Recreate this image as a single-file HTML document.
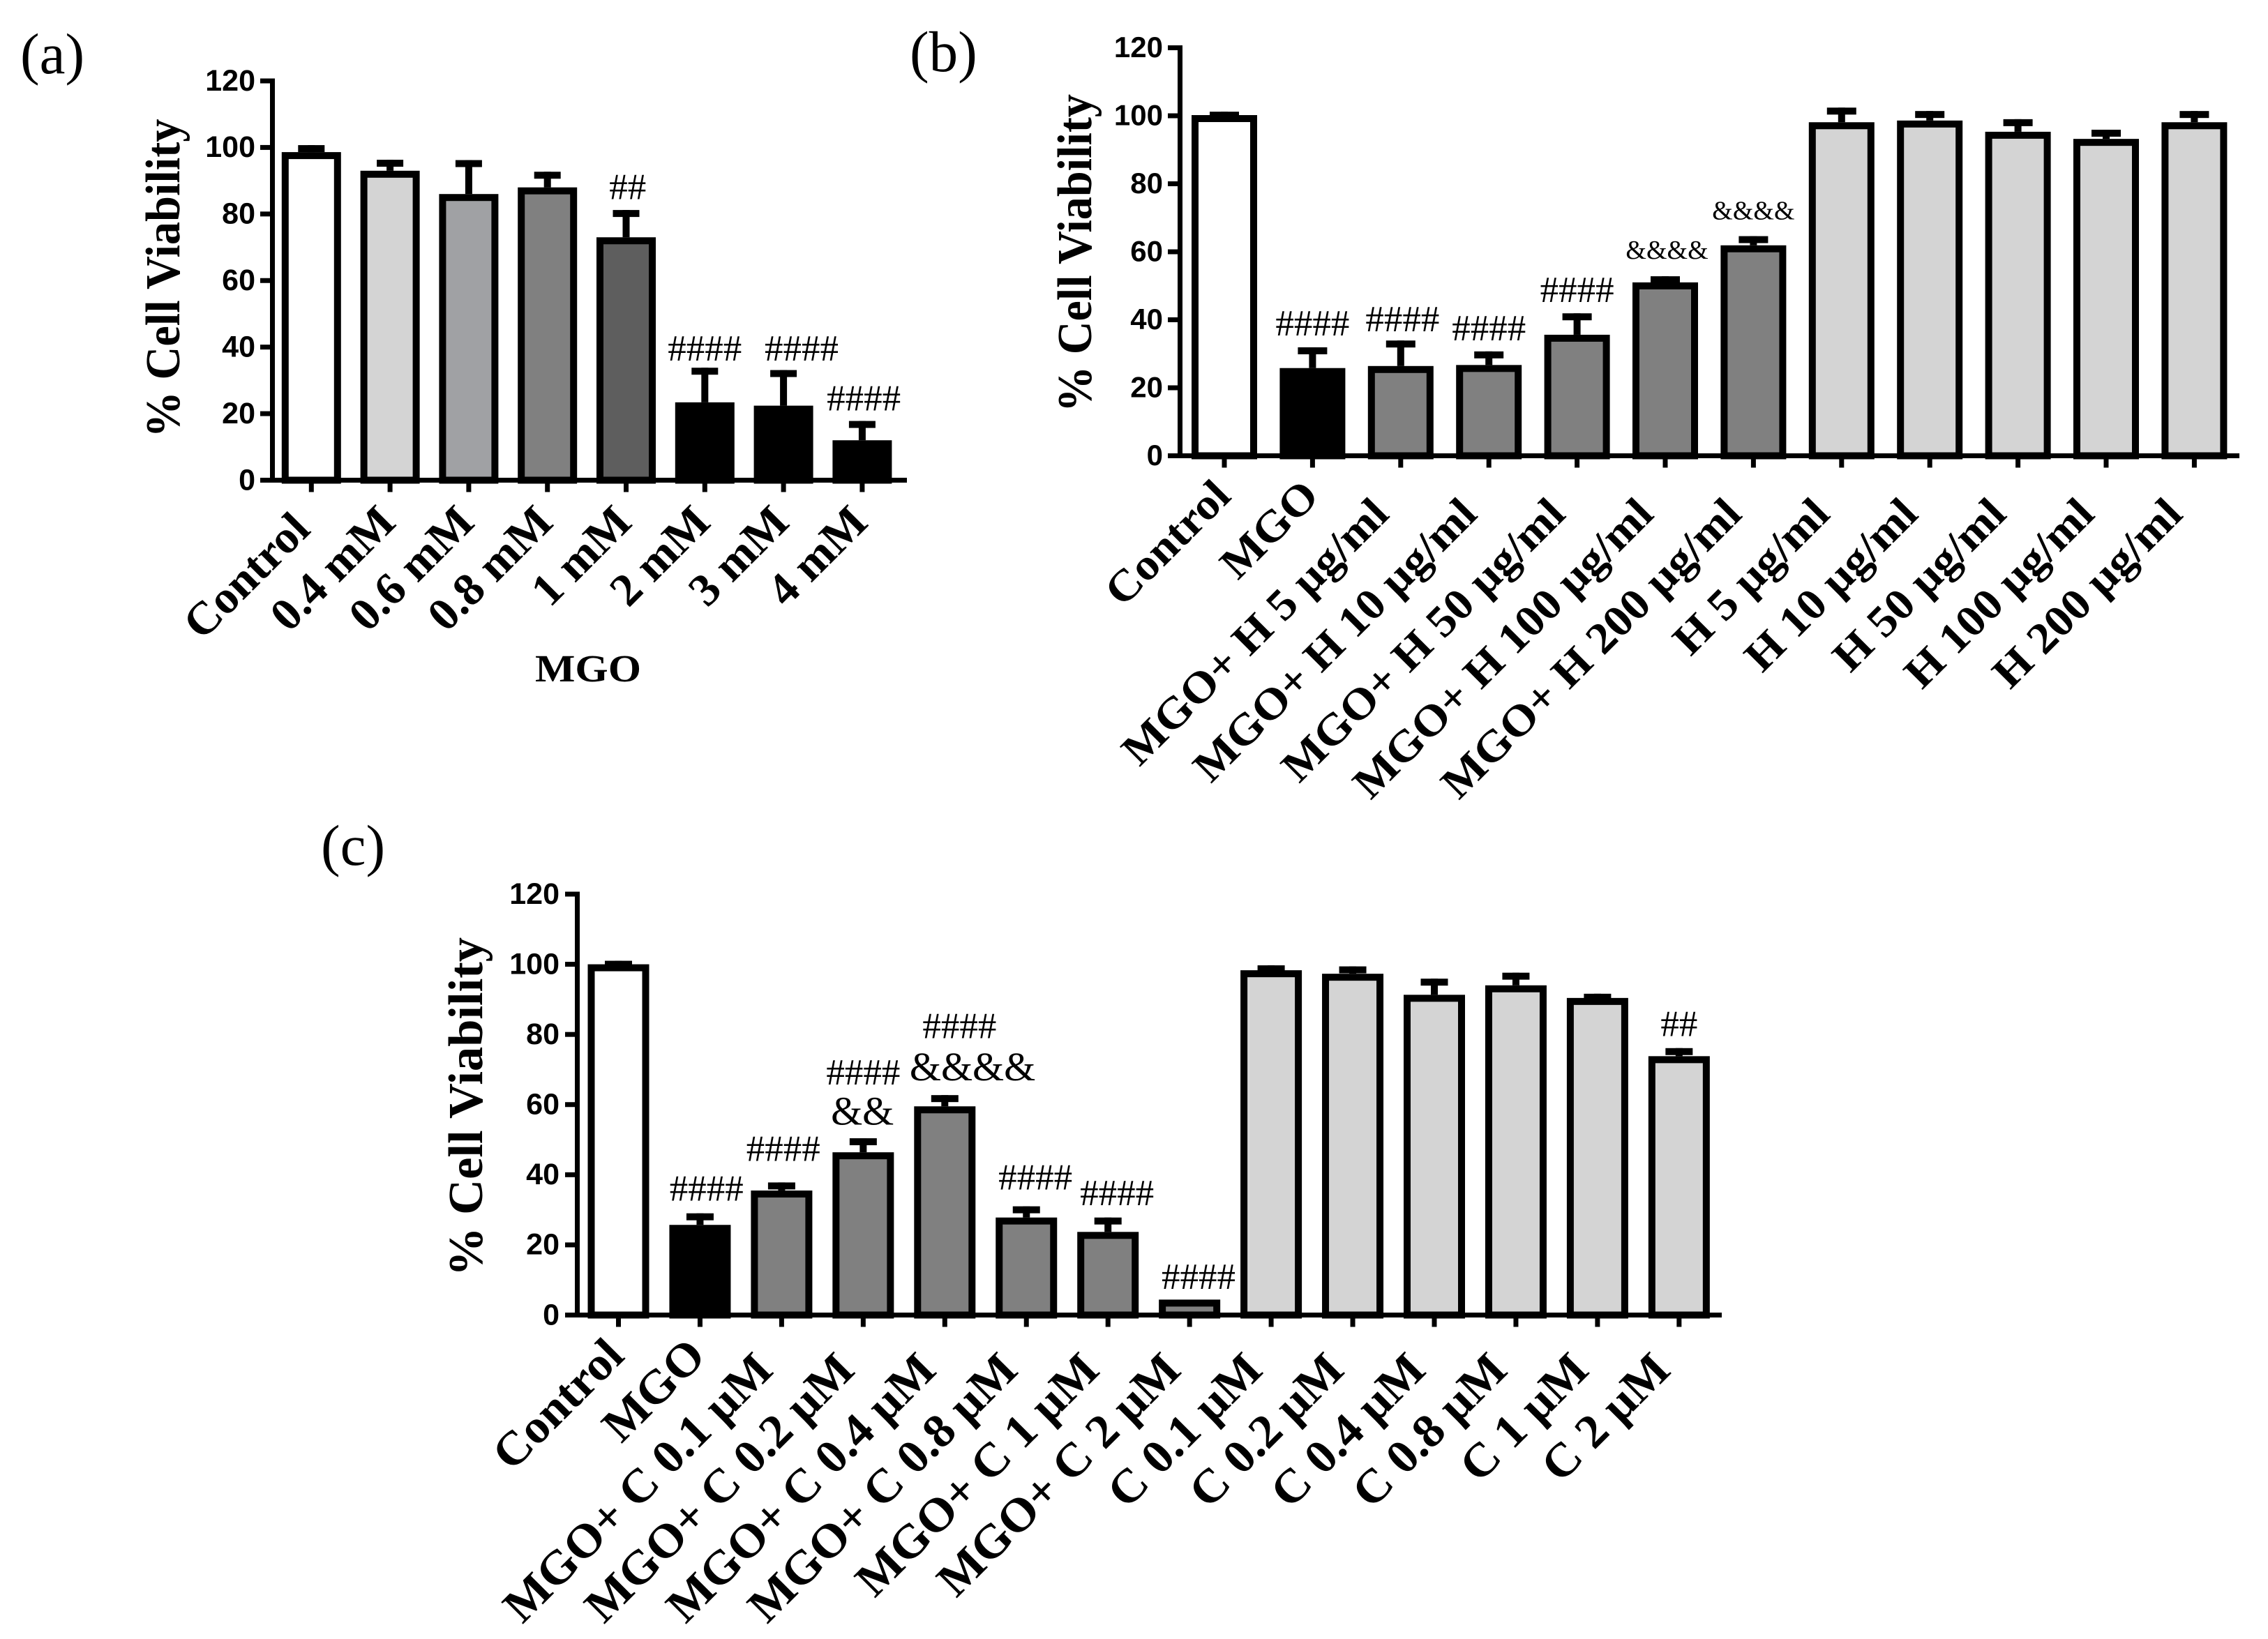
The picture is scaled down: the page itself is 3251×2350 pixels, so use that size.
<!DOCTYPE html>
<html lang="en">
<head>
<meta charset="utf-8">
<title>Cell viability bar charts</title>
<style>
html,body{margin:0;padding:0;background:#fff}
svg{display:block}
text{fill:#000}
.tick{font-family:"Liberation Sans",Arial,sans-serif;font-weight:700}
.serif{font-family:"Liberation Serif",serif}
</style>
</head>
<body>
<svg id="figure" xmlns="http://www.w3.org/2000/svg" width="3251" height="2350" viewBox="0 0 3251 2350"></svg>
<script>
const yTicks = [0, 20, 40, 60, 80, 100, 120];

const aCategories = ["Control", "0.4 mM", "0.6 mM", "0.8 mM", "1 mM", "2 mM", "3 mM", "4 mM"];
const aValues = [98.6, 93, 86, 88, 73, 23.4, 22.4, 12];
const aErrorTops = [100.7, 96.3, 96.2, 92.7, 81.2, 33.8, 33.1, 17.8];
const aFills = ["#ffffff", "#d4d4d4", "#a0a1a4", "#808080", "#5e5e5e", "#000000", "#000000", "#000000"];
const aNoteText = ["##", "####", "####", "####"];
const aNoteCat = [4.02, 5, 6.23, 7.02];
const aNoteVal = [84.5, 36, 36, 21];

const bCategories = ["Control", "MGO", "MGO+ H 5 µg/ml", "MGO+ H 10 µg/ml", "MGO+ H 50 µg/ml", "MGO+ H 100 µg/ml", "MGO+ H 200 µg/ml", "H 5 µg/ml", "H 10 µg/ml", "H 50 µg/ml", "H 100 µg/ml", "H 200 µg/ml"];
const bValues = [100.2, 25.8, 26.4, 26.7, 35.6, 51, 61.9, 98.1, 98.6, 95.3, 93.2, 98.1];
const bErrorTops = [101.2, 31.9, 33.9, 30.7, 41.9, 52.8, 64.6, 102.4, 101.4, 99, 95.9, 101.4];
const bFills = ["#ffffff", "#000000", "#808080", "#808080", "#808080", "#808080", "#808080", "#d4d4d4", "#d4d4d4", "#d4d4d4", "#d4d4d4", "#d4d4d4"];
const bNoteText = ["####", "####", "####", "####", "&&&&", "&&&&"];
const bNoteCat = [1, 2.02, 3, 4, 5.02, 6];
const bNoteVal = [35.4, 36.6, 34, 45.2, 57.9, 69.5];

const cCategories = ["Control", "MGO", "MGO+ C 0.1 µM", "MGO+ C 0.2 µM", "MGO+ C 0.4 µM", "MGO+ C 0.8 µM", "MGO+ C 1 µM", "MGO+ C 2 µM", "C 0.1 µM", "C 0.2 µM", "C 0.4 µM", "C 0.8 µM", "C 1 µM", "C 2 µM"];
const cValues = [100, 25.7, 35.5, 46.4, 59.5, 27.8, 23.7, 4.4, 98.3, 97.3, 91.3, 94, 90.4, 73.8];
const cErrorTops = [101, 29, 37.8, 50.4, 62.7, 31, 27.8, 4.4, 99.7, 99.4, 95.9, 97.6, 91.6, 76.1];
const cFills = ["#ffffff", "#000000", "#808080", "#808080", "#808080", "#808080", "#808080", "#808080", "#d4d4d4", "#d4d4d4", "#d4d4d4", "#d4d4d4", "#d4d4d4", "#d4d4d4"];
const cNoteText = ["####", "####", "####", "&&", "####", "&&&&", "####", "####", "####", "##"];
const cNoteCat = [1.08, 2.02, 3, 2.99, 4.18, 4.34, 5.11, 6.11, 7.11, 13];
const cNoteVal = [32.6, 43.9, 65.7, 54.3, 78.9, 66.9, 35.8, 31.3, 7.5, 79.5];

const SVGNS = "http://www.w3.org/2000/svg";
const root = document.getElementById("figure");

function mk(parent, tag, attrs, txt) {
  const e = document.createElementNS(SVGNS, tag);
  for (const k in attrs) e.setAttribute(k, attrs[k]);
  if (txt !== undefined) e.textContent = txt;
  parent.appendChild(e);
  return e;
}

function drawPanel(p) {
  const g = mk(root, "g", {});
  
  

  const yPos = v => p.y0 - v * (p.y0 - p.y120) / 120;
  const xPos = i => p.x0 + i * p.step;
  const lw = 7;
  const bw = 10;

  const letter = mk(g, "text", {class: "serif", x: p.letterX, y: p.letterY, "font-size": 83}, "(" + p.id + ")");
  
  

  const title = mk(g, "text", {class: "serif", "font-weight": 700, "font-size": 70, "text-anchor": "middle",
    textLength: p.titleLen, lengthAdjust: "spacingAndGlyphs",
    transform: "translate(" + p.titleX + "," + p.titleY + ") rotate(-90)"}, "% Cell Viability");
  
  

  p.values.forEach((v, i) => {
    const cx = xPos(i);
    const topE = yPos(p.errs[i]);
    const topB = yPos(v);
    if (p.errs[i] > v) {
      const stem = mk(g, "rect", {x: cx - 5, y: topE, width: 10, height: Math.max(0, topB - topE), fill: "#000"});
      
      
      const cap = mk(g, "rect", {x: cx - p.cap / 2, y: topE, width: p.cap, height: 10, fill: "#000"});
      
      
    }
    const bar = mk(g, "rect", {x: cx - p.barW / 2 + bw / 2, y: topB + bw / 2, width: p.barW - bw,
      height: Math.max(0, p.y0 - topB - bw / 2), fill: p.fills[i], stroke: "#000", "stroke-width": bw});
    
    

    const tick = mk(g, "rect", {x: cx - lw / 2, y: p.y0, width: lw, height: 17, fill: "#000"});
    
    

    const slide = /\d/.test(p.categories[i]) ? p.labelShift * Math.SQRT1_2 : 0;
    const lab = mk(g, "text", {class: "serif", "font-weight": 700, "font-size": p.labelSize, "text-anchor": "end",
      transform: "translate(" + (cx + p.labelDx - slide) + "," + (p.labelY + slide) + ") rotate(-45) scale(" + p.labelSx + ",1)"}, p.categories[i]);
    
    
  });

  const yAxis = mk(g, "rect", {x: p.axisX - lw / 2, y: p.y120 - lw / 2, width: lw, height: p.y0 - p.y120 + lw, fill: "#000"});
  
  
  const xAxis = mk(g, "rect", {x: p.axisLeft, y: p.y0 - lw / 2, width: p.axisRight - p.axisLeft, height: lw, fill: "#000"});
  
  

  yTicks.forEach(t => {
    const yy = yPos(t);
    const tk = mk(g, "rect", {x: p.axisLeft, y: yy - lw / 2, width: p.axisX - p.axisLeft, height: lw, fill: "#000"});
    
    
    const tl = mk(g, "text", {class: "tick", "font-size": p.tickSize, "text-anchor": "end", x: p.tickRight, y: yy + p.tickSize * 0.32}, String(t));
    
    
  });

  p.noteText.forEach((s, i) => {
    const isAmp = s.charAt(0) === "&";
    const note = mk(g, "text", {class: "serif", "text-anchor": "middle", "font-size": isAmp ? p.ampSize : 53,
      x: xPos(p.noteCat[i]), y: yPos(p.noteVal[i])}, s);
    
    
  });
}

drawPanel({id: "a", categories: aCategories, values: aValues, errs: aErrorTops, fills: aFills,
  noteText: aNoteText, noteCat: aNoteCat, noteVal: aNoteVal, ampSize: 37,
  y0: 688.5, y120: 116, x0: 446.3, step: 112.8, barW: 85, cap: 38,
  axisX: 390.5, axisLeft: 373, axisRight: 1300, tickRight: 366, tickSize: 43,
  titleX: 257, titleY: 399, titleLen: 457,
  labelSize: 66, labelSx: 1.02, labelDx: 1, labelY: 762, labelShift: -14,
  letterX: 29, letterY: 105});

drawPanel({id: "b", categories: bCategories, values: bValues, errs: bErrorTops, fills: bFills,
  noteText: bNoteText, noteCat: bNoteCat, noteVal: bNoteVal, ampSize: 38,
  y0: 653.5, y120: 68.5, x0: 1755, step: 126.4, barW: 94, cap: 42,
  axisX: 1691.5, axisLeft: 1674, axisRight: 3210, tickRight: 1667, tickSize: 42,
  titleX: 1564, titleY: 363, titleLen: 456,
  labelSize: 63, labelSx: 1.07, labelDx: 12, labelY: 714, labelShift: 37,
  letterX: 1304, letterY: 102});

drawPanel({id: "c", categories: cCategories, values: cValues, errs: cErrorTops, fills: cFills,
  noteText: cNoteText, noteCat: cNoteCat, noteVal: cNoteVal, ampSize: 58,
  y0: 1885.5, y120: 1282, x0: 886.5, step: 116.95, barW: 88, cap: 39,
  axisX: 827.5, axisLeft: 810, axisRight: 2468, tickRight: 802, tickSize: 43,
  titleX: 691, titleY: 1587, titleLen: 486,
  labelSize: 68, labelSx: 1.03, labelDx: 11, labelY: 1947, labelShift: 29,
  letterX: 460, letterY: 1240});

const mgoTitle = mk(root, "text", {class: "serif", "font-weight": 700, "font-size": 55, "text-anchor": "middle",
  x: 843, y: 977, textLength: 152, lengthAdjust: "spacingAndGlyphs"}, "MGO");


</script>
</body>
</html>
